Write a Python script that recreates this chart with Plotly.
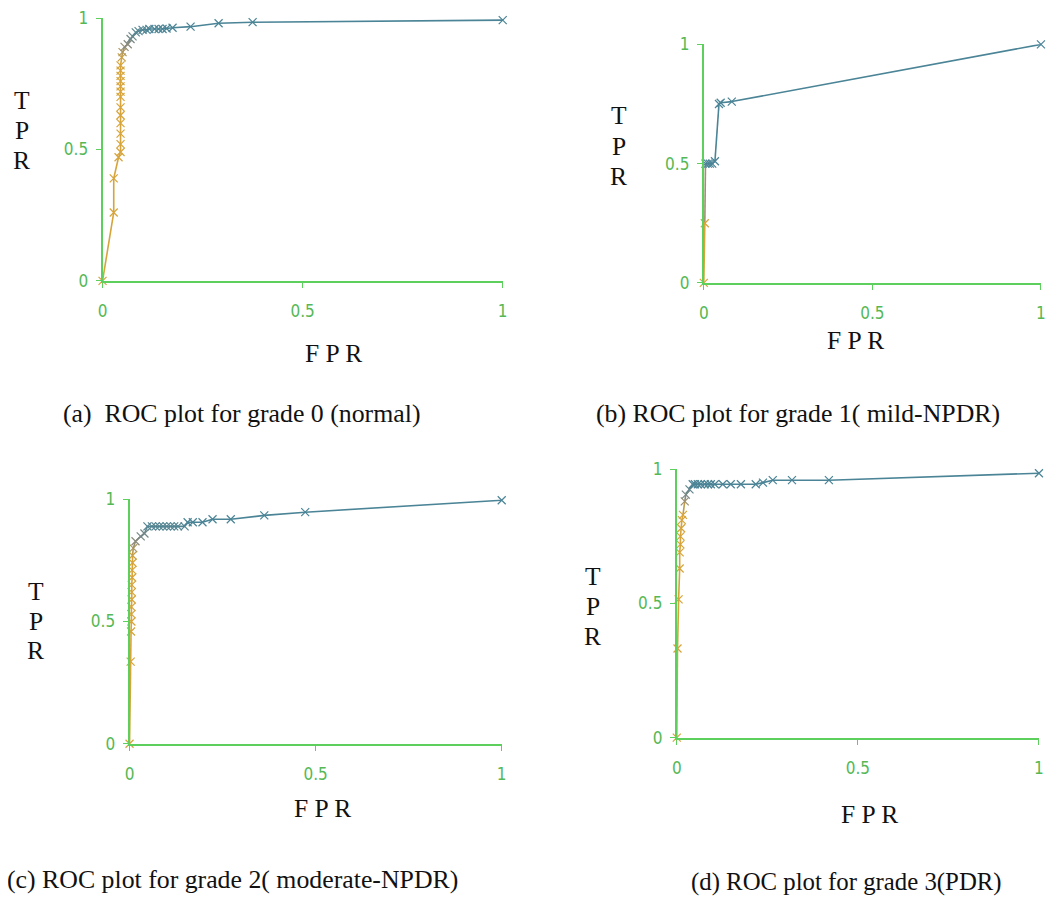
import plotly.graph_objects as go
from plotly.colors import sample_colorscale

# ---------------- data ----------------
fpr_a = [0, 0.028, 0.028, 0.040, 0.045, 0.045, 0.045, 0.045, 0.045, 0.045, 0.045, 0.045, 0.045,
         0.045, 0.045, 0.045, 0.045, 0.048, 0.050, 0.055, 0.063, 0.070, 0.075, 0.083, 0.090,
         0.100, 0.110, 0.117, 0.130, 0.140, 0.150, 0.160, 0.175, 0.220, 0.290, 0.375, 1.0]
tpr_a = [0, 0.26, 0.39, 0.47, 0.49, 0.52, 0.56, 0.60, 0.63, 0.66, 0.70, 0.72, 0.74,
         0.76, 0.78, 0.80, 0.82, 0.85, 0.87, 0.89, 0.90, 0.92, 0.93, 0.945, 0.95,
         0.955, 0.955, 0.958, 0.958, 0.958, 0.958, 0.96, 0.963, 0.967, 0.98, 0.984, 0.992]

fpr_b = [0, 0.003, 0.005, 0.012, 0.018, 0.025, 0.033, 0.045, 0.050, 0.083, 1.0]
tpr_b = [0, 0.25, 0.50, 0.50, 0.50, 0.50, 0.51, 0.75, 0.755, 0.76, 1.0]

fpr_c = [0, 0.003, 0.004, 0.005, 0.005, 0.005, 0.006, 0.006, 0.006, 0.007, 0.007, 0.008,
         0.008, 0.010, 0.016, 0.030, 0.040, 0.048, 0.060, 0.070, 0.080, 0.090, 0.100,
         0.110, 0.120, 0.130, 0.148, 0.156, 0.170, 0.196, 0.223, 0.272, 0.362, 0.472, 1.0]
tpr_c = [0, 0.336, 0.459, 0.50, 0.53, 0.56, 0.59, 0.62, 0.65, 0.68, 0.71, 0.74,
         0.77, 0.80, 0.828, 0.848, 0.86, 0.889, 0.889, 0.889, 0.889, 0.889, 0.889,
         0.889, 0.889, 0.889, 0.889, 0.906, 0.906, 0.906, 0.918, 0.918, 0.934, 0.947, 0.996]

fpr_d = [0, 0.002, 0.005, 0.008, 0.008, 0.010, 0.010, 0.012, 0.014, 0.017, 0.022, 0.025,
         0.035, 0.044, 0.050, 0.058, 0.066, 0.077, 0.086, 0.094, 0.105, 0.127, 0.149,
         0.177, 0.218, 0.238, 0.265, 0.318, 0.420, 1.0]
tpr_d = [0, 0.332, 0.515, 0.63, 0.69, 0.72, 0.75, 0.78, 0.81, 0.83, 0.88, 0.905,
         0.925, 0.944, 0.944, 0.944, 0.944, 0.944, 0.944, 0.944, 0.944, 0.944, 0.944,
         0.944, 0.944, 0.950, 0.959, 0.959, 0.959, 0.985]

tick_vals = [0, 0.5, 1]
tick_text = ["0", "0.5", "1"]
captions = ["(a)  ROC plot for grade 0 (normal)",
            "(b) ROC plot for grade 1( mild-NPDR)",
            "(c) ROC plot for grade 2( moderate-NPDR)",
            "(d) ROC plot for grade 3(PDR)"]

# ---------------- style / layout ----------------
W, H = 1046, 905
# measured page placement of the figure (offset and scale)
AX, BX = 0.99, 10.5
AY, BY = 0.976, 17.7
ORANGE, GRAY, BLUE = "#d6a43a", "#8a8a7e", "#4a8496"
GREEN_LINE, GREEN_TXT = "#5ccf5c", "#55b855"
SERIF = "Liberation Serif, Times New Roman, serif"
NARROW = "Liberation Sans Narrow, DejaVu Sans Condensed, Arial Narrow, sans-serif"
cscale = [[0, ORANGE], [0.5, GRAY], [1, BLUE]]

# panel boxes in screen pixels: (left, right, top, bottom), colour blend range on TPR
panels = [
    dict(x=fpr_a, y=tpr_a, box=(100, 500, 16, 280), blend=(0.84, 0.96)),
    dict(x=fpr_b, y=tpr_b, box=(701, 1038, 44, 282), blend=(0.30, 0.50)),
    dict(x=fpr_c, y=tpr_c, box=(127, 499, 498, 742), blend=(0.76, 0.90)),
    dict(x=fpr_d, y=tpr_d, box=(674, 1036, 468, 736), blend=(0.84, 0.945)),
]
tpr_lbl = [(19, (100, 130, 160)), (616, (115, 146, 176)), (33, (590, 620, 649)), (590, (575, 605, 635))]
fpr_lbl = [(331, 353), (853, 340), (320, 807), (867, 813)]
cap_pos = [(58, 412, 25.8), (591, 412, 25.8), (3, 878, 25.8), (686, 880, 24.8)]


def px(xp):
    return (xp - BX) / AX / W


def py(yp):
    return min(1.0, 1 - (yp - BY) / AY / H)


def col(v, lo, hi):
    t = min(max((v - lo) / (hi - lo), 0), 1)
    return sample_colorscale(cscale, [t])[0]


fig = go.Figure()
layout = dict(width=W, height=H, margin=dict(l=0, r=0, t=0, b=0), autosize=False,
              paper_bgcolor="white", plot_bgcolor="white", showlegend=False)
annotations = []

for i, p in enumerate(panels):
    n = i + 1
    xa = "x" if n == 1 else f"x{n}"
    ya = "y" if n == 1 else f"y{n}"
    l, r, t, b = p["box"]
    lo, hi = p["blend"]
    xs, ys = p["x"], p["y"]
    for k in range(len(xs) - 1):
        c = col((ys[k] + ys[k + 1]) / 2, lo, hi)
        fig.add_trace(go.Scatter(x=[xs[k], xs[k + 1]], y=[ys[k], ys[k + 1]], mode="lines",
                                 line=dict(color=c, width=1.6), cliponaxis=False,
                                 xaxis=xa, yaxis=ya, hoverinfo="skip"))
    mcols = [col(v, lo, hi) for v in ys]
    fig.add_trace(go.Scatter(x=xs, y=ys, mode="markers", cliponaxis=False,
                             marker=dict(symbol="x-thin", size=8, color=mcols,
                                         line=dict(color=mcols, width=1.2)),
                             xaxis=xa, yaxis=ya))
    ax_common = dict(range=[0, 1], showgrid=False, zeroline=False, showline=True,
                     linecolor=GREEN_LINE, linewidth=2, ticks="outside", ticklen=5,
                     tickcolor=GREEN_LINE, tickwidth=1, tickvals=tick_vals, ticktext=tick_text,
                     tickfont=dict(family=NARROW, size=17, color=GREEN_TXT), fixedrange=True,
                     ticklabeloverflow="allow")
    xkey = "xaxis" if n == 1 else f"xaxis{n}"
    ykey = "yaxis" if n == 1 else f"yaxis{n}"
    layout[xkey] = dict(ax_common, domain=[px(l), px(r)], anchor=ya, ticklabelstandoff=9)
    layout[ykey] = dict(ax_common, domain=[py(b), py(t)], anchor=xa, ticklabelstandoff=4)

    # TPR stacked letters
    xl, yls = tpr_lbl[i]
    for letter, yl in zip("TPR", yls):
        annotations.append(dict(text=letter, x=px(xl), y=py(yl), xref="paper", yref="paper",
                                xanchor="center", yanchor="middle", showarrow=False,
                                font=dict(family=SERIF, size=25.5, color="#111111")))
    xf, yf = fpr_lbl[i]
    annotations.append(dict(text="F P R", x=px(xf), y=py(yf), xref="paper", yref="paper",
                            xanchor="center", yanchor="middle", showarrow=False,
                            font=dict(family=SERIF, size=25.5, color="#111111")))
    xc, yc, fs = cap_pos[i]
    annotations.append(dict(text=captions[i], x=px(xc), y=py(yc), xref="paper", yref="paper",
                            xanchor="left", yanchor="middle", showarrow=False,
                            font=dict(family=SERIF, size=fs, color="#111111")))

layout["annotations"] = annotations
fig.update_layout(**layout)
fig.write_html("out.html")
